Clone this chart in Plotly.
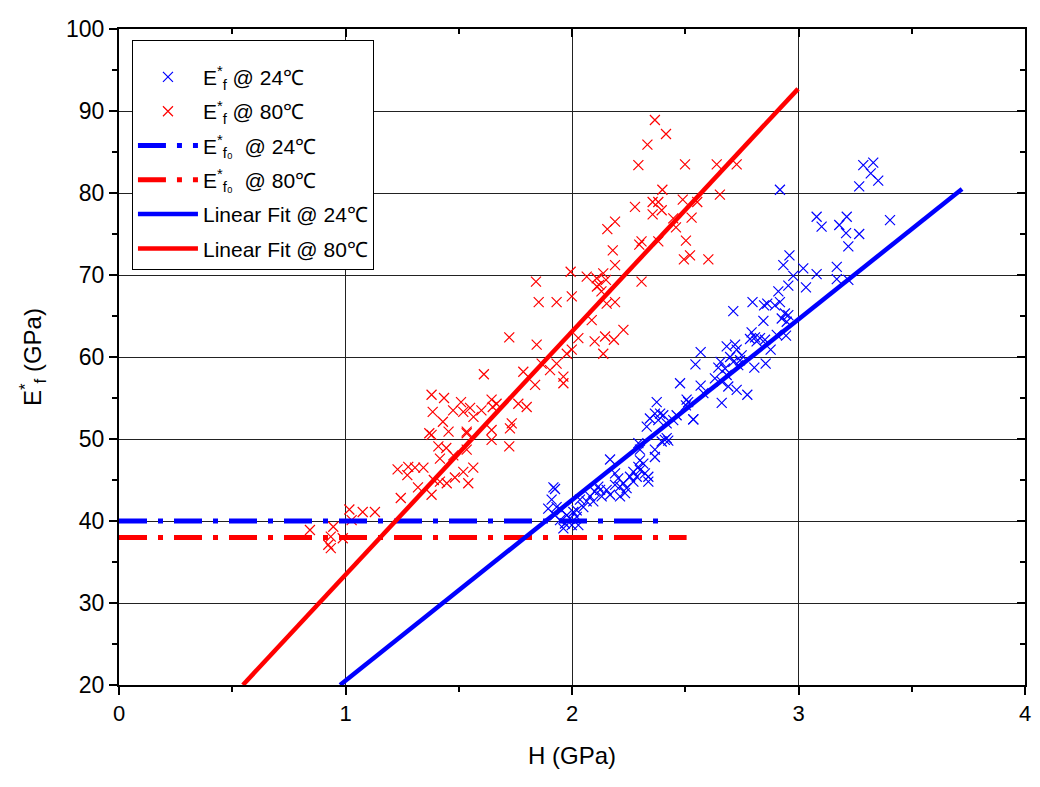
import plotly.graph_objects as go

# ---------------- data ----------------
red_H = [1.38, 1.435, 1.385, 1.43, 1.51, 1.475, 1.52, 1.55, 1.565, 1.60, 1.645, 1.65,
         1.37, 1.38, 1.455, 1.535, 1.645, 1.645, 1.41, 1.445, 1.535, 1.417, 1.476,
         1.23, 1.277, 1.273, 1.307, 1.344, 1.32, 1.39, 1.417, 1.447, 1.483, 1.52, 1.564,
         1.542, 1.38, 1.244, 1.017, 1.076, 1.13, 0.843, 0.946, 1.027, 0.935, 0.988, 0.924, 0.935,
         1.994, 1.841, 2.065, 2.109, 2.138, 2.19, 2.18, 2.12, 2.13, 1.853, 1.932, 1.999,
         2.153, 2.19, 2.087, 1.723, 1.844, 2.028, 2.10, 2.146, 2.185, 2.227, 2.138, 1.977,
         1.999, 1.611, 1.785, 1.866, 1.903, 1.932, 1.837, 1.962, 1.962, 1.667, 1.763, 1.80,
         1.734, 1.726, 1.723, 1.535,
         2.366, 2.415, 2.333, 2.293, 2.499, 2.639, 2.727, 2.399, 2.356, 2.381, 2.489, 2.553,
         2.653, 2.278, 2.396, 2.356, 2.447, 2.528, 2.459, 2.19, 2.156, 2.307, 2.297, 2.381,
         2.503, 2.494, 2.521, 2.602, 2.307, 2.15, 2.11]
red_E = [55.4, 55.0, 53.3, 52.1, 54.5, 53.5, 53.3, 53.8, 52.7, 53.5, 54.8, 53.9,
         50.7, 50.5, 50.9, 50.9, 51.1, 49.9, 49.1, 48.9, 48.7, 47.6, 48.0,
         46.3, 46.6, 45.6, 46.5, 46.5, 44.1, 45.0, 44.8, 44.6, 45.3, 46.0, 46.5,
         44.6, 43.2, 42.8, 41.4, 41.1, 41.1, 38.9, 39.3, 40.1, 38.1, 37.9, 37.1, 36.7,
         70.4, 69.2, 69.8, 69.6, 70.2, 71.2, 73.0, 68.8, 68.0, 66.7, 66.7, 67.4,
         66.5, 66.7, 64.5, 62.4, 61.5, 62.3, 61.9, 62.5, 62.1, 63.3, 60.4, 60.4,
         60.9, 57.9, 58.2, 59.2, 58.4, 59.2, 56.6, 57.6, 56.8, 54.3, 54.3, 53.9,
         51.9, 51.3, 49.1, 50.7,
         88.9, 87.2, 85.9, 83.4, 83.5, 83.5, 83.5, 80.4, 78.9, 78.9, 79.2, 78.9,
         79.8, 78.3, 77.9, 77.4, 76.9, 77.0, 75.8, 76.5, 75.6, 74.1, 73.7, 74.1,
         74.2, 71.9, 72.4, 71.9, 69.2, 69.4, 68.6]

blue_H = [2.374, 2.366, 2.389, 2.344, 2.33, 2.381, 2.447, 2.462, 2.535, 2.513, 2.41, 2.425,
          2.293, 2.30, 2.366, 2.366, 2.168, 2.30, 2.293, 2.315, 2.30, 2.322, 2.337, 2.337,
          2.271, 2.256, 2.286, 2.271, 2.19, 2.204, 2.19, 2.212, 2.241, 2.234, 2.212, 2.227,
          2.153, 2.168, 2.124, 2.131, 2.10, 2.08, 2.065, 2.094, 2.116, 1.918, 1.925, 2.035,
          2.05, 2.021, 1.91, 1.932, 1.954, 1.895, 1.925, 1.977, 2.006, 1.991, 1.947, 1.969,
          1.962, 2.028, 1.999, 2.021,
          2.96, 2.933, 3.021, 3.08, 2.977, 2.955, 3.033, 2.911, 2.918, 2.896, 2.862, 2.848,
          2.797, 2.712, 2.94, 2.955, 2.926, 2.948, 2.845, 2.945, 2.904, 2.793, 2.808, 2.83,
          2.852, 2.786, 2.815, 2.877, 2.72, 2.683, 2.727, 2.749, 2.698, 2.712, 2.676, 2.734,
          2.742, 2.568, 2.545, 2.656, 2.646, 2.805, 2.855, 2.631, 2.661, 2.683, 2.69, 2.727,
          2.774, 2.661, 2.477, 2.568, 2.58, 2.506, 2.503, 2.536, 2.418, 2.403, 2.418, 2.396,
          3.286, 3.33, 3.319, 3.352, 3.268, 3.08, 3.102, 3.213, 3.18, 3.21, 3.268, 3.22,
          3.404, 3.169, 3.169, 3.22, 2.918]
blue_E = [54.5, 53.1, 53.1, 52.5, 51.5, 52.3, 52.3, 52.9, 52.4, 54.5, 49.9, 49.8,
          49.5, 48.7, 48.7, 47.8, 47.5, 47.4, 46.6, 47.0, 46.2, 45.8, 45.4, 44.8,
          46.0, 45.4, 45.4, 44.8, 45.8, 45.2, 44.4, 44.2, 44.0, 43.4, 43.0, 44.6,
          43.8, 43.2, 43.8, 43.0, 43.6, 43.0, 42.4, 42.4, 44.2, 44.1, 43.9, 42.6,
          41.7, 41.3, 42.6, 41.7, 41.3, 41.5, 40.7, 40.7, 41.1, 40.3, 40.1, 39.7,
          39.1, 39.5, 39.5, 40.5,
          72.4, 71.2, 70.8, 70.1, 69.9, 68.7, 68.5, 68.0, 66.7, 66.3, 66.5, 66.3,
          66.7, 65.6, 65.3, 65.1, 64.7, 64.3, 64.4, 62.6, 62.7, 63.0, 62.4, 62.3,
          62.1, 62.2, 61.9, 60.9, 61.5, 61.3, 60.9, 60.2, 60.0, 59.4, 58.6, 59.0,
          59.6, 60.6, 59.1, 59.4, 58.7, 58.7, 59.2, 57.4, 57.0, 57.8, 56.4, 56.0,
          55.4, 54.4, 56.8, 56.5, 55.6, 54.8, 54.1, 52.4, 51.9, 52.9, 50.1, 49.7,
          83.4, 83.7, 82.4, 81.5, 80.8, 77.1, 75.9, 77.1, 76.1, 75.1, 75.0, 73.5,
          76.7, 71.0, 69.5, 69.4, 80.4]

# linear fits  E = slope * H + intercept over an H range
fit24_slope, fit24_intercept, fit24_H = 22.03, -1.50, [0.976, 3.722]
fit80_slope, fit80_intercept, fit80_H = 29.66, 3.78, [0.547, 2.998]

# constant E*f0 levels
ef0_24, ef0_24_H = 40.0, [0.0, 2.39]
ef0_80, ef0_80_H = 38.0, [0.0, 2.506]

x_ticks = [0, 1, 2, 3, 4]
y_ticks = [20, 30, 40, 50, 60, 70, 80, 90, 100]

BLUE = "#0000FF"
RED = "#FF0000"
FONT = "Liberation Sans, Arial, sans-serif"

fig = go.Figure()

fig.add_trace(go.Scatter(
    x=blue_H, y=blue_E, mode="markers", name="E<sup>*</sup><sub>f</sub> @ 24℃",
    legendgroup="a",
    marker=dict(symbol="x-thin", size=10, line=dict(width=1.2, color=BLUE), color=BLUE)))
fig.add_trace(go.Scatter(
    x=red_H, y=red_E, mode="markers", name="E<sup>*</sup><sub>f</sub> @ 80℃",
    legendgroup="b",
    marker=dict(symbol="x-thin", size=10, line=dict(width=1.2, color=RED), color=RED)))

dashdot = "28px,11px,5px,11px"
fig.add_trace(go.Scatter(
    x=ef0_24_H, y=[ef0_24] * len(ef0_24_H), mode="lines", legendgroup="c",
    name="E<sup>*</sup><sub>f₀</sub>  @ 24℃",
    line=dict(color=BLUE, width=5, dash=dashdot)))
fig.add_trace(go.Scatter(
    x=ef0_80_H, y=[ef0_80] * len(ef0_80_H), mode="lines", legendgroup="d",
    name="E<sup>*</sup><sub>f₀</sub>  @ 80℃",
    line=dict(color=RED, width=5, dash=dashdot)))

fig.add_trace(go.Scatter(
    x=fit24_H, y=[fit24_slope * h + fit24_intercept for h in fit24_H], mode="lines",
    legendgroup="e", name="Linear Fit @ 24℃", line=dict(color=BLUE, width=4.5)))
fig.add_trace(go.Scatter(
    x=fit80_H, y=[fit80_slope * h + fit80_intercept for h in fit80_H], mode="lines",
    legendgroup="f", name="Linear Fit @ 80℃", line=dict(color=RED, width=4.5)))

# helper trace for mirrored (inside) ticks on top/right
fig.add_trace(go.Scatter(x=[None], y=[None], xaxis="x2", yaxis="y2",
                         showlegend=False, hoverinfo="skip"))

fig.update_layout(
    width=1032, height=779,
    margin=dict(l=111, r=15, t=21, b=102),
    paper_bgcolor="white", plot_bgcolor="white",
    font=dict(family=FONT, color="black", size=22),
    showlegend=True,
    legend=dict(
        x=0.0143, y=0.983, xanchor="left", yanchor="top",
        bgcolor="white", bordercolor="black", borderwidth=1,
        font=dict(family=FONT, size=21, color="black"),
        itemwidth=60, traceorder="grouped", tracegroupgap=4,
        title=dict(text=" ", font=dict(size=12)),
    ),
    xaxis=dict(
        range=[0, 4], tickvals=x_ticks, ticktext=[str(v) for v in x_ticks],
        showline=True, linecolor="black", linewidth=2, mirror=True,
        ticks="outside", ticklen=8, tickwidth=2, tickcolor="black",
        showgrid=True, gridcolor="#222222", gridwidth=1, zeroline=False,
        minor=dict(dtick=0.5, ticks="outside", ticklen=5, tickwidth=2,
                   tickcolor="black", showgrid=False),
        tickfont=dict(size=22),
        title=dict(text="H (GPa)", font=dict(size=24), standoff=22),
        automargin=False,
    ),
    yaxis=dict(
        range=[20, 100], tickvals=y_ticks, ticktext=[str(v) for v in y_ticks],
        showline=True, linecolor="black", linewidth=2, mirror=True,
        ticks="outside", ticklen=8, tickwidth=2, tickcolor="black",
        showgrid=True, gridcolor="#222222", gridwidth=1, zeroline=False,
        minor=dict(dtick=5, ticks="outside", ticklen=5, tickwidth=2,
                   tickcolor="black", showgrid=False),
        tickfont=dict(size=23),
        title=dict(text="E<sup>*</sup><sub>f</sub> (GPa)", font=dict(size=24), standoff=18),
        automargin=False,
    ),
    xaxis2=dict(
        range=[0, 4], overlaying="x", side="top", anchor="y2",
        tickvals=x_ticks, showticklabels=False, showgrid=False, zeroline=False,
        ticks="inside", ticklen=8, tickwidth=2, tickcolor="black", showline=False,
        minor=dict(dtick=0.5, ticks="inside", ticklen=5, tickwidth=2, tickcolor="black"),
        automargin=False,
    ),
    yaxis2=dict(
        range=[20, 100], overlaying="y", side="right", anchor="x2",
        tickvals=y_ticks, showticklabels=False, showgrid=False, zeroline=False,
        ticks="inside", ticklen=8, tickwidth=2, tickcolor="black", showline=False,
        minor=dict(dtick=5, ticks="inside", ticklen=5, tickwidth=2, tickcolor="black"),
        automargin=False,
    ),
)

fig.write_html("out.html")
